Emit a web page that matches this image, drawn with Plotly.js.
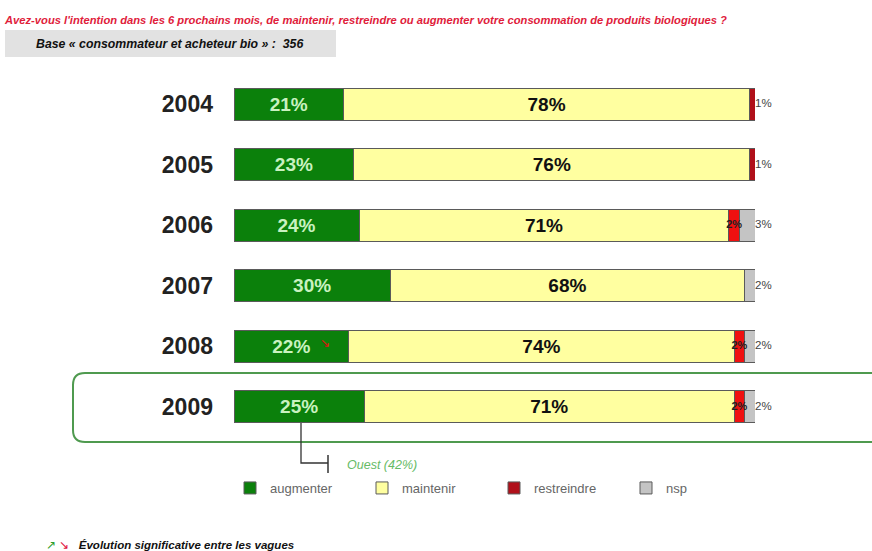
<!DOCTYPE html>
<html><head><meta charset="utf-8">
<script src="https://cdn.plot.ly/plotly-3.0.1.min.js"></script>
<style>html,body{margin:0;padding:0;background:#fff}</style>
</head><body><div id="chart" style="width:872px;height:551px"></div>
<script>
const years = ['2004','2005','2006','2007','2008','2009'];
const augmenter = [21,23,24,30,22,25];
const maintenir = [78,76,71,68,74,71];
const restreindre = [1,1,2,0,2,2];
const nsp = [0,0,3,2,2,2];
const seriesNames = ['augmenter','maintenir','restreindre','nsp'];
const titleText = "Avez-vous l'intention dans les 6 prochains mois, de maintenir, restreindre ou augmenter votre consommation de produits biologiques ?";
const baseText = "Base « consommateur et acheteur bio » :  356";
const noteText = "Évolution significative entre les vagues";
const calloutText = "Ouest (42%)";
const decreaseYear = '2008';

const W=872,H=551, L=234, R=117, T=74, B=114;
const pw=W-L-R, ph=H-T-B;
const px=v=>(v-L)/pw, py=v=>(H-B-v)/ph;

const pct=v=>v+'%';
const lineStyle={color:'#5a5a5a',width:1};
const FONT='Liberation Sans';
const traces=[
 {name:seriesNames[0],type:'bar',orientation:'h',y:years,x:augmenter,
  marker:{color:'#0b800b',line:lineStyle},text:augmenter.map(pct),textposition:'inside',
  insidetextanchor:'middle',textfont:{color:'#c9f2c0',size:19,family:FONT,weight:'bold'},hoverinfo:'none'},
 {name:seriesNames[1],type:'bar',orientation:'h',y:years,x:maintenir,
  marker:{color:'#ffffa0',line:lineStyle},text:maintenir.map(pct),textposition:'inside',
  insidetextanchor:'middle',textfont:{color:'#111',size:19,family:FONT,weight:'bold'},hoverinfo:'none'},
 {name:seriesNames[2],type:'bar',orientation:'h',y:years,x:restreindre,
  marker:{color:years.map((y,i)=>nsp[i]>0?'#f01010':'#b0101a'),line:lineStyle},hoverinfo:'none'},
 {name:seriesNames[3],type:'bar',orientation:'h',y:years,x:nsp,
  marker:{color:'#c4c4c4',line:lineStyle},hoverinfo:'none'}
];
// right-hand labels
const total = years.map((y,i)=>augmenter[i]+maintenir[i]+restreindre[i]+nsp[i]);
traces.push({type:'scatter',mode:'text',x:total,y:years,showlegend:false,cliponaxis:false,hoverinfo:'none',
  text:years.map((y,i)=>pct(nsp[i]>0?nsp[i]:restreindre[i])),textposition:'middle right',
  textfont:{size:11.5,color:'#444',family:FONT}});
// small labels inside restreindre segments
const inIdx = years.map((y,i)=>i).filter(i=>nsp[i]>0&&restreindre[i]>0);
traces.push({type:'scatter',mode:'text',x:inIdx.map(i=>augmenter[i]+maintenir[i]+restreindre[i]/2),
  y:inIdx.map(i=>years[i]),text:inIdx.map(i=>pct(restreindre[i])),showlegend:false,cliponaxis:false,hoverinfo:'none',
  textposition:'middle center',textfont:{size:11,color:'#222',family:FONT,weight:'bold'}});

const ann=[];
const di = years.indexOf(decreaseYear);
// significant decrease marker
ann.push({x:augmenter[di],y:di,xref:'x',yref:'y',text:'↘',showarrow:false,xanchor:'center',xshift:-24,yshift:4,
  font:{size:12,color:'#e01010'}});
ann.push({x:px(2),y:py(20),xref:'paper',yref:'paper',text:'<b><i>'+titleText+'</i></b>',showarrow:false,xanchor:'left',yanchor:'middle',
  font:{size:11.2,color:'#e0203a',family:FONT}});
ann.push({x:px(34),y:py(44),xref:'paper',yref:'paper',text:'<b><i>'+baseText+'</i></b>',showarrow:false,xanchor:'left',yanchor:'middle',
  font:{size:12.3,color:'#111',family:FONT}});
ann.push({x:px(345),y:py(465),xref:'paper',yref:'paper',text:'<i>'+calloutText+'</i>',showarrow:false,xanchor:'left',yanchor:'middle',
  font:{size:12.5,color:'#66bb66',family:FONT}});
ann.push({x:px(44),y:py(545),xref:'paper',yref:'paper',
  text:'<span style="color:#2e9e2e">↗</span> <span style="color:#e01040">↘</span>   <b><i>'+noteText+'</i></b>',
  showarrow:false,xanchor:'left',yanchor:'middle',font:{size:11.5,color:'#111',family:FONT}});

const r=12;
const bx0=px(73),bx1=px(900),by0=py(442),by1=py(373),rx=r/pw,ry=r/ph;
const roundPath=`M ${bx0+rx} ${by1} L ${bx1} ${by1} L ${bx1} ${by0} L ${bx0+rx} ${by0} Q ${bx0} ${by0} ${bx0} ${by0+ry} L ${bx0} ${by1-ry} Q ${bx0} ${by1} ${bx0+rx} ${by1} Z`;
const shapes=[
 {type:'rect',xref:'paper',yref:'paper',x0:px(5),x1:px(336),y0:py(57),y1:py(30),fillcolor:'#e2e2e2',line:{width:0},layer:'below'},
 {type:'path',xref:'paper',yref:'paper',path:roundPath,line:{color:'#4f9a4f',width:2},fillcolor:'rgba(0,0,0,0)'},
 {type:'path',xref:'paper',yref:'paper',path:`M ${px(301)} ${py(423)} L ${px(301)} ${py(463)} L ${px(328)} ${py(463)}`,line:{color:'#333',width:1.3}},
 {type:'line',xref:'paper',yref:'paper',x0:px(328),x1:px(328),y0:py(455),y1:py(477),line:{color:'#333',width:1.5}}
];

const layout={
 width:W,height:H,margin:{l:L,r:R,t:T,b:B},barmode:'stack',bargap:0.47,
 paper_bgcolor:'#fff',plot_bgcolor:'#fff',showlegend:true,
 xaxis:{range:[0,100],showticklabels:false,showgrid:false,zeroline:false,showline:false,ticks:'',fixedrange:true},
 yaxis:{type:'category',autorange:false,range:[5.5,-0.5],showgrid:false,zeroline:false,showline:false,ticks:'',
   ticklabelstandoff:20,tickfont:{size:23,color:'#222',family:FONT,weight:'bold'}},
 legend:{orientation:'h',x:px(230),y:py(488),xanchor:'left',yanchor:'middle',traceorder:'normal',
   entrywidth:87,entrywidthmode:'pixels',itemwidth:30,font:{size:13,color:'#666',family:FONT}},
 annotations:ann,shapes:shapes
};
Plotly.newPlot('chart',traces,layout,{displayModeBar:false,staticPlot:true});
</script></body></html>
